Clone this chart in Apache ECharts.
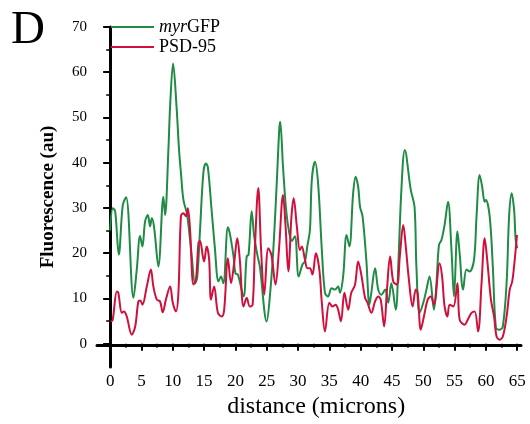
<!DOCTYPE html>
<html>
<head>
<meta charset="utf-8">
<script src="https://cdn.jsdelivr.net/npm/echarts@6/dist/echarts.min.js"></script>
<style>
	html, body { margin: 0; padding: 0; background: #fff; }
	#main { width: 530px; height: 424px; }
</style>
</head>
<body>
<div id="main"></div>
<script>
// 数据: 距离(microns) 与 荧光强度(au)
var gfpDist = [0, 0.43, 0.8, 1.38, 2.02, 2.55, 3.72, 4.25, 4.78, 5.15, 5.58, 6.01, 6.38, 6.65, 7.02, 7.7,
	8.5, 8.77, 9.3, 9.57, 10.05, 10.6, 11.0, 11.3, 11.7, 12.3, 13.0, 13.56, 13.9, 14.35, 14.9, 15.3,
	15.6, 16.2, 16.7, 17.3, 17.7, 18.07, 18.8, 19.1, 19.7, 20.0, 20.4, 21.3, 21.8, 22.1, 22.6, 23.0,
	23.55, 23.9, 25.0, 25.5, 26.05, 26.6, 27.0, 27.15, 27.6, 28.1, 28.6, 29.0, 29.5, 30.1, 30.7, 31.1,
	31.5, 31.9, 32.2, 32.7, 33.2, 33.8, 34.3, 34.8, 35.35, 35.9, 36.4, 36.7, 37.2, 37.75, 38.2, 38.8,
	39.2, 39.6, 39.9, 40.3, 40.9, 41.4, 41.7, 42.3, 42.8, 43.3, 43.9, 44.4, 44.9, 45.6, 46.0, 46.5,
	47.05, 48.0, 48.6, 48.9, 49.4, 50.0, 50.5, 51.0, 51.7, 52.1, 52.5, 52.9, 53.4, 53.95, 54.5, 54.9,
	55.45, 55.8, 56.35, 56.9, 57.4, 58.1, 58.5, 59.0, 59.4, 59.8, 60.0, 60.6, 61.1, 61.6, 62.2, 62.7,
	63.3, 63.7, 64.1, 64.5, 64.75, 65.0];
var gfpVal = [25.3, 30.2, 29.5, 20.0, 30.9, 32.6, 10.5, 16.7, 24.1, 21.8, 27.3, 28.7, 26.2, 28.0, 26.0, 17.4,
	32.7, 28.7, 43, 52.5, 62, 52.5, 43, 38, 32, 28.7, 20, 13.7, 15, 25.4, 38.2, 40.0,
	39.2, 29.8, 21.8, 14.1, 15.2, 13.7, 26.0, 24.7, 19.6, 15.9, 15.6, 10.8, 19.6, 20.0, 29.5, 24.0,
	19.6, 17.4, 5.3, 10.8, 21, 35.7, 47.5, 49.2, 39.3, 29.8, 24.7, 23, 24, 15.2, 17.8, 18.5,
	22, 25.4, 36.4, 40.4, 35.7, 21, 11.6, 10.8, 12.6, 12.3, 13, 11.6, 15.2, 24.3, 21.8, 33.5,
	37.1, 34.9, 30.5, 28.4, 18.9, 9.0, 11.6, 17, 12.3, 11.2, 12.3, 9.4, 13.7, 7.9, 17.4, 34.2,
	43, 34.2, 30.5, 17.4, 7.2, 9.4, 12.3, 15.2, 7.9, 13.7, 22.1, 23.2, 26.5, 31.6, 21, 10.8,
	25.1, 20.3, 12.3, 16.7, 16.3, 18.9, 28.4, 37.5, 34.9, 31.6, 32, 28.4, 17.4, 3.9, 3.5, 4.2,
	13.7, 28.4, 33.5, 29.8, 23.2, 21.4];

var psdDist = [0.1, 0.4, 1.06, 1.3, 1.86, 2.2, 2.65, 3.45, 4.0, 4.5, 4.8, 5.15, 5.85, 6.5, 6.9, 7.45,
	7.97, 8.4, 8.9, 9.57, 10.0, 10.5, 10.9, 11.3, 11.7, 12.1, 12.4, 12.76, 13.3, 13.7, 14.1, 14.35,
	14.8, 15.0, 15.4, 15.8, 16.1, 16.6, 17.2, 17.8, 18.2, 18.8, 19.3, 19.8, 20.3, 20.7, 21.3, 21.8,
	22.3, 22.75, 23.1, 23.65, 24.1, 24.6, 25.25, 25.75, 26.4, 26.95, 27.6, 28.0, 28.45, 28.95, 29.3, 29.8,
	30.3, 30.6, 31.1, 31.5, 31.9, 32.3, 32.85, 33.4, 33.8, 34.3, 35.0, 35.5, 36.0, 36.4, 36.85, 37.4,
	38.0, 38.5, 39.1, 39.6, 40.1, 40.7, 41.1, 41.7, 42.3, 42.8, 43.2, 43.75, 44.2, 44.7, 45.2, 45.8,
	46.25, 46.8, 47.2, 47.7, 48.3, 48.8, 49.1, 49.6, 50.1, 50.7, 51.2, 51.7, 52.6, 53.0, 53.4, 53.85,
	54.2, 54.8, 55.45, 55.8, 56.6, 57.1, 57.7, 58.2, 58.75, 59.3, 59.8, 60.2, 60.8, 61.3, 61.7, 62.2,
	62.7, 63.3, 63.8, 64.2, 64.6, 64.96];
var psdVal = [5.3, 5.6, 11.9, 11.6, 7.2, 7.5, 6.4, 2.4, 4.2, 9.7, 9.9, 9.0, 13, 16.7, 13, 10.1,
	9.7, 7.3, 10.1, 13, 9.4, 7.5, 11.6, 28.4, 29.1, 28.4, 30.2, 25.4, 13.4, 14.5, 22.5, 23.0,
	19.6, 18.5, 21.8, 19, 10.1, 13, 7.2, 6.4, 7.8, 19.2, 13.7, 18.1, 23.6, 18.9, 8.6, 10.5,
	8.6, 9.0, 21, 34.6, 21, 11.2, 21.4, 19.9, 13.4, 21, 33.1, 26.4, 16.3, 28.4, 32.4, 26.3,
	21, 21.8, 18.9, 17, 17, 15.6, 20.3, 16.7, 9.4, 3.1, 9.4, 8.6, 9.0, 7.9, 5.3, 11.6,
	7.9, 11.6, 13.4, 18.5, 15.6, 10.5, 9.4, 7.2, 9.7, 10.8, 10.1, 4.2, 12.3, 19.6, 14.1, 13.4,
	19.6, 26.5, 21.8, 14.5, 8.6, 12.3, 11.6, 3.5, 6.4, 10.1, 10.8, 9.0, 18.1, 15.2, 8.6, 6.4,
	9.0, 8.6, 13.7, 5.7, 4.6, 5.7, 7.2, 7.5, 3.1, 13.7, 23.6, 18.9, 10.1, 6.4, 2.0, 1.3,
	2.0, 6.4, 12.3, 14.1, 18.9, 24.3];

var xTicks = [0, 65];   // 刻度标签范围
var yTicks = [0, 70];

function pairs(xs, ys) {
	var out = [];
	for (var i = 0; i < xs.length; i++) {
		out.push([xs[i], ys[i]]);
	}
	return out;
}

var serif = 'Liberation Serif';
var chart = echarts.init(document.getElementById('main'));

// grid 0: 数据与坐标轴线; grid 1: 只画刻度和标签 (从 0 开始)
var option = {
	animation : false,
	title : {
		text : 'D',
		left : 6,
		top : 2,
		textStyle : { fontFamily : serif, fontSize : 47, fontWeight : 'normal', color : '#000' }
	},
	legend : {
		data : [ 'myrGFP', 'PSD-95' ],
		orient : 'vertical',
		left : 106,
		top : 12,
		icon : 'rect',
		itemWidth : 43,
		itemHeight : 2,
		itemGap : 0,
		textStyle : {
			fontFamily : serif, fontSize : 18, color : '#000', lineHeight : 20,
			rich : {
				it : { fontFamily : serif, fontSize : 18, fontStyle : 'italic', color : '#000' },
				n : { fontFamily : serif, fontSize : 18, color : '#000' }
			}
		},
		formatter : function(name) {
			if (name === 'myrGFP') {
				return '{it|myr}{n|GFP}';
			}
			return '{n|' + name + '}';
		}
	},
	grid : [
		{ left : 97, right : 9, top : 27, bottom : 57 },
		{ left : 110.15, right : 12.8, top : 27, bottom : 78.4 }
	],
	xAxis : [ {
		type : 'value',
		gridIndex : 0,
		min : -2.1,
		max : 65.6,
		axisLine : { lineStyle : { color : '#000', width : 3 } },
		axisTick : { show : false },
		axisLabel : { show : false },
		splitLine : { show : false }
	}, {
		type : 'value',
		gridIndex : 1,
		min : xTicks[0],
		max : xTicks[1],
		interval : 5,
		offset : 21.4,
		name : 'distance (microns)',
		nameLocation : 'middle',
		nameGap : 29,
		nameTextStyle : { fontFamily : serif, fontSize : 24, color : '#000', padding : [ 0, 0, 0, 5 ] },
		axisLine : { show : false },
		axisTick : { length : 7, lineStyle : { color : '#000', width : 2 } },
		minorTick : { show : true, splitNumber : 2, length : 4, lineStyle : { color : '#000', width : 1.5 } },
		axisLabel : { fontFamily : serif, fontSize : 17, color : '#000', margin : 8 },
		splitLine : { show : false }
	} ],
	yAxis : [ {
		type : 'value',
		gridIndex : 0,
		min : -4.7,
		max : 70,
		name : 'Fluorescence (au)',
		nameLocation : 'middle',
		nameGap : 39,
		nameTextStyle : { fontFamily : serif, fontSize : 19, fontWeight : 'bold', color : '#000' },
		axisLine : { lineStyle : { color : '#000', width : 3 } },
		axisTick : { show : false },
		axisLabel : { show : false },
		splitLine : { show : false }
	}, {
		type : 'value',
		gridIndex : 1,
		min : yTicks[0],
		max : yTicks[1],
		interval : 10,
		offset : 13.15,
		axisLine : { show : false },
		axisTick : { length : 7, lineStyle : { color : '#000', width : 2 } },
		minorTick : { show : true, splitNumber : 2, length : 4, lineStyle : { color : '#000', width : 1.5 } },
		axisLabel : { fontFamily : serif, fontSize : 15, color : '#000', margin : 10 },
		splitLine : { show : false }
	} ],
	series : [ {
		name : 'myrGFP',
		type : 'line',
		xAxisIndex : 0,
		yAxisIndex : 0,
		data : pairs(gfpDist, gfpVal),
		showSymbol : false,
		smooth : 0.35,
		lineStyle : { color : '#1f8b45', width : 2 },
		itemStyle : { color : '#1f8b45' }
	}, {
		name : 'PSD-95',
		type : 'line',
		xAxisIndex : 0,
		yAxisIndex : 0,
		data : pairs(psdDist, psdVal),
		showSymbol : false,
		smooth : 0.35,
		lineStyle : { color : '#d0103c', width : 2 },
		itemStyle : { color : '#d0103c' }
	} ]
};
chart.setOption(option);
</script>
</body>
</html>
